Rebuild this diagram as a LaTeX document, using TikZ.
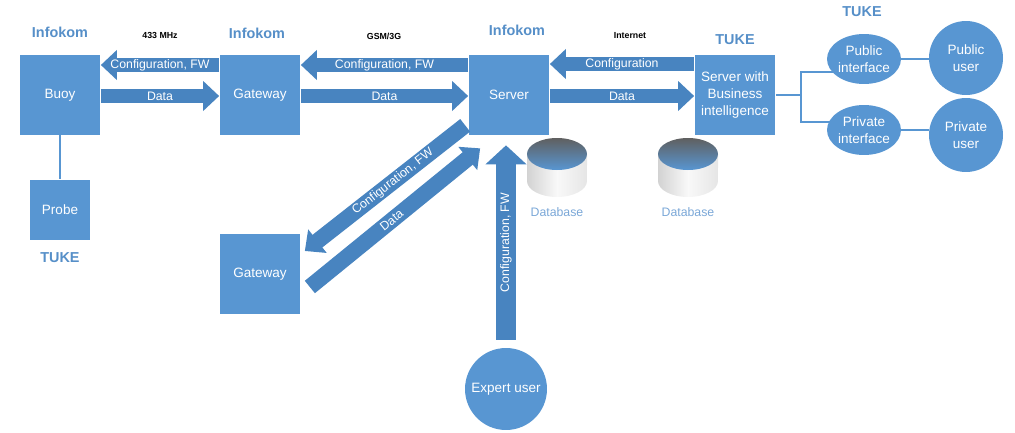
\documentclass[tikz,border=0pt]{standalone}
\usepackage{fontspec}
\setmainfont{Liberation Sans}
\usetikzlibrary{arrows.meta}
\usetikzlibrary{calc}
\usetikzlibrary{shapes.geometric}
\usetikzlibrary{backgrounds}

\definecolor{boxblue}{RGB}{88,150,210}
\definecolor{flowblue}{RGB}{72,132,192}
\definecolor{orgblue}{RGB}{86,143,200}
\definecolor{dbtext}{RGB}{122,167,215}

\tikzset{
	unit/.style={fill=boxblue, text=white, minimum width=1.62cm, minimum height=1.6cm, inner sep=1pt, align=center, font=\fontsize{7.7}{9.6}\selectfont},
	iface/.style={ellipse, fill=boxblue, text=white, minimum width=1.48cm, minimum height=1.0cm, inner sep=0pt, align=center, font=\fontsize{7.7}{9.6}\selectfont},
	user/.style={circle, fill=boxblue, text=white, minimum size=1.64cm, inner sep=0pt, align=center, font=\fontsize{7.7}{9.6}\selectfont},
	org/.style={text=orgblue, font=\fontsize{8.2}{10}\selectfont\bfseries},
	band/.style={text=black, font=\fontsize{5}{6}\selectfont\bfseries},
	flow/.style={draw=flowblue, line width=0.28cm, -{Triangle[width=0.58cm, length=0.32cm]}},
	bigflow/.style={draw=flowblue, line width=0.4cm, -{Triangle[width=0.8cm, length=0.38cm]}},
	flowtext/.style={text=white, font=\fontsize{7}{8}\selectfont, inner sep=0pt},
	tree/.style={draw=boxblue, line width=1.1pt},
}

\begin{document}
\begin{tikzpicture}[x=0.02cm, y=-0.02cm]
	\useasboundingbox (0,0) rectangle (1015,433);

	% who runs what
	\node[org] (orgbuoy) at (60,32) {Infokom};
	\node[org] (orggw) at (257,33) {Infokom};
	\node[org] (orgserver) at (517,30) {Infokom};
	\node[org] (orgbi) at (735,40) {TUKE};
	\node[org] (orguser) at (862,12) {TUKE};
	\node[org] (orgprobe) at (60,258) {TUKE};

	\node[band] (mhz) at (160,35) {433 MHz};
	\node[band] (gsm) at (384,36) {GSM/3G};
	\node[band] (inet) at (630,36) {Internet};

	% boxes
	\node[unit] (buoy) at (60,95) {Buoy};
	\node[unit, minimum width=1.2cm, minimum height=1.22cm] (probe) at (60,210) {Probe};
	\node[unit] (gwA) at (260,95) {Gateway};
	\node[unit] (server) at (509,95) {Server};
	\node[unit] (bi) at (735,95) {Server with\\Business\\intelligence};
	\node[unit] (gwB) at (260,274) {Gateway};
	\node[user] (expert) at (506,389) {Expert user};

	\node[iface] (pubif) at (864,59) {Public\\interface};
	\node[iface] (privif) at (864,130) {Private\\interface};
	\node[user, minimum size=1.48cm] (pubuser) at (966,58) {Public\\user};
	\node[user, minimum size=1.48cm] (privuser) at (966,135) {Private\\user};

	% databases
	\foreach \cx/\nm in {557/dbA, 688/dbB} {
		\coordinate (\nm) at (\cx,138);
		\shade[left color=gray!35, right color=gray!20, middle color=gray!5]
			($(\nm)+(-30,16)$) -- ($(\nm)+(-30,43)$)
			arc[start angle=180, end angle=360, x radius=0.6cm, y radius=0.32cm]
			-- ($(\nm)+(30,16)$) -- cycle;
		\shade[top color=gray!75!black, bottom color=boxblue] ($(\nm)+(0,16)$) ellipse [x radius=0.6cm, y radius=0.32cm];
		\node[text=dbtext, font=\fontsize{7}{8}\selectfont] (\nm text) at (\cx,212) {Database};
	}

	% links
	\draw[flow] (gwA.west |- 0,65) -- (buoy.east |- 0,65) node[flowtext, midway] {Configuration, FW};
	\draw[flow] (buoy.east |- 0,96) -- (gwA.west |- 0,96) node[flowtext, midway] {Data};
	\draw[flow] (server.west |- 0,65) -- (gwA.east |- 0,65) node[flowtext, midway] {Configuration, FW};
	\draw[flow] (gwA.east |- 0,96) -- (server.west |- 0,96) node[flowtext, midway] {Data};
	\draw[flow] (bi.west |- 0,64) -- (server.east |- 0,64) node[flowtext, midway] {Configuration};
	\draw[flow] (server.east |- 0,96) -- (bi.west |- 0,96) node[flowtext, midway] {Data};

	\draw[flow, line width=0.32cm] ($(server.south west)+(-3,-10)$) -- ($(gwB.east)+(4,-23)$) node[flowtext, pos=0.45, sloped] {Configuration, FW};
	\draw[flow, line width=0.32cm] ($(gwB.east)+(9,13)$) -- ($(server.south west)+(12,13)$) node[flowtext, pos=0.48, sloped] {Data};
	\draw[bigflow] ($(expert.north)+(0,-8)$) -- ($(expert.north |- server.south)+(0,10)$) node[flowtext, midway, sloped] {Configuration, FW};

	\draw[tree] (buoy) -- (probe);
	\draw[tree] (pubif.east) -- (pubuser.west |- pubif.east);
	\draw[tree] (privif.east) -- (privuser.west |- privif.east);
	\begin{pgfonlayer}{background}
		\draw[tree] (bi.east) -- ++(25,0) coordinate (fork);
		\draw[tree] (pubif.center |- 0,72) -| (fork) |- (privif.center |- 0,122);
	\end{pgfonlayer}
\end{tikzpicture}
\end{document}
